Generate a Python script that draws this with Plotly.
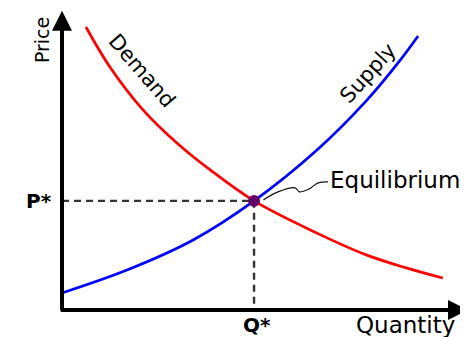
import plotly.graph_objects as go

# demand and supply curves (quantity, price)
demand_q = [0.59, 1.18, 2.00, 2.83, 3.65, 4.73, 6.28, 7.51, 8.50, 9.38]
demand_p = [9.13, 7.84, 6.45, 5.39, 4.52, 3.52, 2.48, 1.77, 1.35, 1.03]

supply_q = [0.0, 1.60, 3.23, 4.73, 6.28, 7.51, 8.33, 8.77]
supply_p = [0.55, 1.29, 2.26, 3.52, 5.16, 6.77, 8.06, 8.84]

eq_q = 4.73
eq_p = 3.52

# little wavy pointer from the equilibrium label to the point
pointer_q = [4.96, 5.32, 5.74, 5.85, 6.08, 6.31, 6.55]
pointer_p = [3.55, 3.81, 3.94, 3.81, 3.90, 4.10, 4.13]

# page body has an 8px margin, so the figure is a bit smaller and shifted
W, H = 460, 329
ox, oy = 54, 302          # origin in figure pixels
sx, sy = 40.6, 31.0       # pixels per unit

fig = go.Figure()

# dashed guides to the axes
fig.add_trace(go.Scatter(x=[0, eq_q, eq_q], y=[eq_p, eq_p, 0], mode='lines',
                         line=dict(color='#333333', width=2.4, dash='7px,5px'),
                         hoverinfo='skip'))

fig.add_trace(go.Scatter(x=demand_q, y=demand_p, mode='lines', line_shape='spline',
                         line=dict(color='#ff0000', width=2.7), name='Demand'))
fig.add_trace(go.Scatter(x=supply_q, y=supply_p, mode='lines', line_shape='spline',
                         line=dict(color='#0000ff', width=2.7), name='Supply'))

fig.add_trace(go.Scatter(x=pointer_q, y=pointer_p, mode='lines', line_shape='spline',
                         line=dict(color='#111111', width=1.2), hoverinfo='skip'))

fig.add_trace(go.Scatter(x=[eq_q], y=[eq_p], mode='markers',
                         marker=dict(color='#660066', size=12), name='Equilibrium'))

font = 'DejaVu Sans, Verdana, sans-serif'
ann = []

# axes drawn as arrows
ann.append(dict(x=0, y=9.65, ax=0, ay=-0.05, xref='x', yref='y', axref='x', ayref='y',
                showarrow=True, arrowhead=2, arrowsize=1, arrowwidth=4,
                arrowcolor='black', text=''))
ann.append(dict(x=10.0, y=0, ax=-0.07, ay=0, xref='x', yref='y', axref='x', ayref='y',
                showarrow=True, arrowhead=2, arrowsize=1, arrowwidth=4,
                arrowcolor='black', text=''))

ann.append(dict(x=-0.49, y=8.71, text='Price', textangle=-90, showarrow=False,
                font=dict(family=font, size=19, color='black')))
ann.append(dict(x=8.45, y=-0.48, text='Quantity', showarrow=False,
                font=dict(family=font, size=23, color='black')))
ann.append(dict(x=-0.56, y=eq_p, text='<b>P*</b>', showarrow=False,
                font=dict(family=font, size=20, color='black')))
ann.append(dict(x=eq_q + 0.07, y=-0.48, text='<b>Q*</b>', showarrow=False,
                font=dict(family=font, size=20, color='black')))
ann.append(dict(x=6.55, y=4.19, text='Equilibrium', showarrow=False, xanchor='left',
                font=dict(family=font, size=23, color='black')))
ann.append(dict(x=1.97, y=7.7, text='Demand', textangle=49, showarrow=False,
                font=dict(family=font, size=21, color='black')))
ann.append(dict(x=7.54, y=7.65, text='Supply', textangle=-48, showarrow=False,
                font=dict(family=font, size=21, color='black')))

fig.update_layout(
    width=W, height=H,
    margin=dict(l=0, r=0, t=0, b=0),
    paper_bgcolor='white', plot_bgcolor='white',
    showlegend=False,
    annotations=ann,
    xaxis=dict(range=[-ox / sx, (W - ox) / sx], visible=False, fixedrange=True),
    yaxis=dict(range=[-(H - oy) / sy, oy / sy], visible=False, fixedrange=True),
)

fig.write_html("out.html")
